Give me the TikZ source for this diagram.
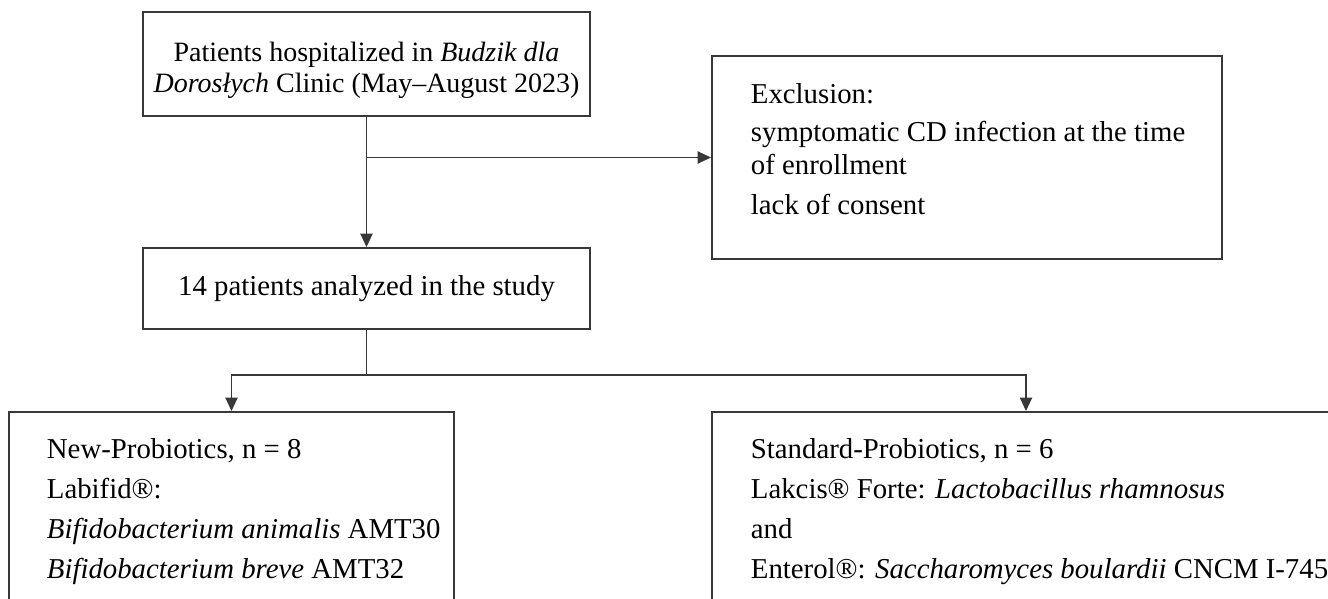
\documentclass[tikz,border=0pt]{standalone}
\usepackage{fontspec}
\setmainfont{Liberation Serif}
\usetikzlibrary{arrows.meta,positioning}

\definecolor{linegray}{rgb}{0.22,0.22,0.22}

\tikzset{every picture/.style={line width=1.4pt}}
\tikzset{
  box/.style={draw=linegray, rectangle, inner sep=0pt},
  conn/.style={draw=linegray, -{Triangle[length=10pt,width=9pt]}},
  link/.style={draw=linegray},
  txt/.style={inner sep=0pt, align=left, anchor=north west, font=\fontsize{21.6}{30}\selectfont},
}

\begin{document}
\begin{tikzpicture}[x=0.75pt,y=0.75pt,yscale=-1,xscale=1]
	\useasboundingbox (0,0) rectangle (1328,599);

	%Shape: Rectangle [boxA]
	\node [box, minimum width=335.25pt, minimum height=78pt] (boxA) at (366.5,64) {};
	%Shape: Rectangle [boxB]
	\node [box, minimum width=335.25pt, minimum height=60.75pt] (boxB) at (366.5,288.5) {};
	%Shape: Rectangle [exclude]
	\node [box, minimum width=382.5pt, minimum height=152.25pt] (exclude) at (967,157.5) {};
	%Shape: Rectangle [newgrp]
	\node [box, minimum width=333.75pt, minimum height=156pt] (newgrp) at (231.5,516) {};
	%Shape: Rectangle [stdgrp]
	\node [box, minimum width=471pt, minimum height=156pt] (stdgrp) at (1026,516) {};

	%Straight Lines
	\draw [conn] (boxA) -- (boxB);
	\draw [conn] (boxA.south |- exclude.west) -- (exclude.west);
	\coordinate (fork) at (366.5,375);
	\draw [link] (boxB) -- (fork);
	\draw [conn] (fork) -| (newgrp.north);
	\draw [conn] (fork) -| (stdgrp.north);

	% Text Node
	\node [txt, align=center, anchor=north, font=\fontsize{21}{23.25}\selectfont] (txtA) at (366.5,40.8)
	  {Patients hospitalized in \textit{Budzik dla}\\\textit{Dorosłych} Clinic (May–August 2023)};
	% Text Node
	\node [txt, anchor=base] (txtB) at (366.5,295) {14 patients analyzed in the study};
	% Text Node
	\node [txt, font=\fontsize{21.6}{24.75}\selectfont] (txtExcl) at (750,82.3)
	  {Exclusion:\\[3.75pt]
	   symptomatic CD infection at the time\\
	   of enrollment\\[5.25pt]
	   lack of consent};
	% Text Node
	\node [txt] (txtNew) at (46,437.3)
	  {New-Probiotics, n = 8\\
	   Labifid®:\\
	   \textit{Bifidobacterium animalis} AMT30\\
	   \textit{Bifidobacterium breve} AMT32};
	% Text Node
	\node [txt] (txtStd) at (750,437.3)
	  {Standard-Probiotics, n = 6\\
	   Lakcis® Forte: \textit{Lactobacillus rhamnosus}\\
	   and\\
	   Enterol®: \textit{Saccharomyces boulardii} CNCM I-745};

\end{tikzpicture}
\end{document}
